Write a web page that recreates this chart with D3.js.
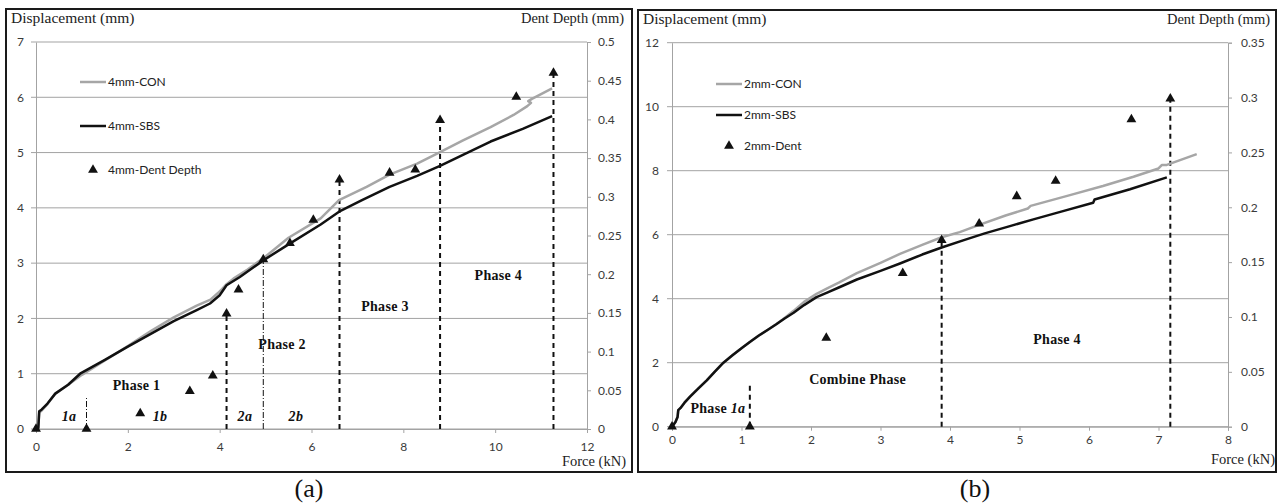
<!DOCTYPE html>
<meta charset="utf-8" />
<script src="https://d3js.org/d3.v7.min.js"></script>
<style>
  body { margin: 0; background: #fff; }
</style>
<svg id="chart" width="1279" height="504"></svg>
<script>
  // ---- panel (a): 4 mm specimens, [force kN, displacement mm]
  var con4 = [[0,0],[0.05,0.02],[0.07,0.3],[0.12,0.33],[0.25,0.45],[0.42,0.64],[0.7,0.8],[1,0.98],[1.5,1.24],[2,1.5],[2.5,1.77],[3,2.02],[3.5,2.23],[3.8,2.34],[3.95,2.45],[4.05,2.53],[4.15,2.62],[4.3,2.72],[4.6,2.88],[5,3.12],[5.5,3.46],[6.2,3.81],[6.6,4.14],[7.2,4.38],[7.7,4.6],[8.3,4.8],[8.8,5.01],[9.3,5.22],[9.9,5.46],[10.4,5.68],[10.7,5.84],[10.78,5.9],[10.72,5.93],[10.8,5.97],[11.24,6.16]];
  var sbs4 = [[0,0],[0.05,0.02],[0.07,0.32],[0.12,0.35],[0.25,0.46],[0.42,0.64],[0.7,0.8],[0.96,1.0],[1.5,1.25],[2,1.49],[2.5,1.72],[3,1.95],[3.5,2.15],[3.79,2.27],[4.0,2.42],[4.15,2.6],[4.44,2.75],[4.95,3.05],[5.5,3.34],[6.2,3.7],[6.6,3.93],[7.1,4.14],[7.7,4.38],[8.3,4.58],[8.8,4.76],[9.4,5.0],[9.9,5.2],[10.6,5.43],[11.24,5.66]];
  var dent4Force = [0, 1.1, 2.27, 3.35, 3.85, 4.15, 4.41, 4.95, 5.53, 6.04, 6.61, 7.7, 8.26, 8.8, 10.46, 11.27];
  var dent4Depth = [0, 0, 0.02, 0.049, 0.069, 0.149, 0.18, 0.219, 0.24, 0.27, 0.322, 0.331, 0.335, 0.399, 0.429, 0.46];
  var guide4Force = [1.1, 4.15, 4.95, 6.61, 8.8, 11.27];
  var guide4Top = [0.04, 0.149, 0.219, 0.322, 0.399, 0.46];
  var guide4Thin = [true, false, true, false, false, false];
  var xTicksA = [0, 2, 4, 6, 8, 10, 12];
  var yTicksA = [0, 1, 2, 3, 4, 5, 6, 7];
  var dentTicksA = [0, 0.05, 0.1, 0.15, 0.2, 0.25, 0.3, 0.35, 0.4, 0.45, 0.5];

  // ---- panel (b): 2 mm specimens
  var con2 = [[0,0],[0.05,0.15],[0.08,0.3],[0.09,0.52],[0.12,0.58],[0.18,0.75],[0.26,0.94],[0.38,1.2],[0.5,1.45],[0.62,1.73],[0.74,2.0],[0.87,2.23],[1.0,2.45],[1.12,2.65],[1.25,2.85],[1.38,3.03],[1.5,3.2],[1.62,3.4],[1.75,3.62],[1.9,3.9],[2.08,4.15],[2.24,4.33],[2.4,4.5],[2.66,4.8],[3.0,5.12],[3.28,5.4],[3.6,5.68],[3.88,5.92],[4.14,6.08],[4.41,6.3],[4.8,6.6],[5.12,6.82],[5.16,6.9],[5.7,7.22],[6.2,7.52],[6.64,7.81],[7.0,8.07],[7.05,8.18],[7.12,8.18],[7.55,8.52]];
  var sbs2 = [[0,0],[0.05,0.15],[0.08,0.3],[0.09,0.52],[0.12,0.58],[0.18,0.75],[0.26,0.94],[0.38,1.2],[0.5,1.45],[0.62,1.73],[0.74,2.0],[0.87,2.23],[1.0,2.45],[1.12,2.65],[1.25,2.85],[1.38,3.03],[1.5,3.2],[1.62,3.38],[1.75,3.56],[1.9,3.8],[2.08,4.05],[2.24,4.2],[2.4,4.35],[2.66,4.6],[3.0,4.87],[3.28,5.1],[3.6,5.38],[3.88,5.6],[4.2,5.83],[4.5,6.04],[4.85,6.26],[5.2,6.48],[5.6,6.72],[6.06,7.0],[6.08,7.1],[6.59,7.42],[7.12,7.79]];
  var dent2Force = [0, 1.12, 2.22, 3.32, 3.88, 4.42, 4.96, 5.52, 6.61, 7.17];
  var dent2Depth = [0, 0, 0.081, 0.14, 0.17, 0.185, 0.21, 0.224, 0.28, 0.299];
  var guide2Force = [1.12, 3.88, 7.17];
  var guide2Top = [0.04, 0.17, 0.299];
  var xTicksB = [0, 1, 2, 3, 4, 5, 6, 7, 8];
  var yTicksB = [0, 2, 4, 6, 8, 10, 12];
  var dentTicksB = [0, 0.05, 0.1, 0.15, 0.2, 0.25, 0.3, 0.35];

  var svg = d3.select("#chart");
  var serif = "'Liberation Serif', 'Times New Roman', serif";
  var sans = "Lato, 'Open Sans', sans-serif";

  function panel(o) {
    var g = svg.append("g");
    var x = d3.scaleLinear().domain(o.xDomain).range([o.left, o.right]);
    var y = d3.scaleLinear().domain(o.yDomain).range([o.bottom, o.top]);
    var y2 = d3.scaleLinear().domain(o.dentDomain).range([o.bottom, o.top]);

    g.append("rect")
      .attr("x", o.box[0]).attr("y", o.box[1])
      .attr("width", o.box[2]).attr("height", o.box[3])
      .attr("fill", "none").attr("stroke", "#1a1a1a").attr("stroke-width", 2);

    // horizontal grid
    g.selectAll(".grid").data(o.yTicks).enter().append("line")
      .attr("x1", o.left - 5).attr("x2", o.right)
      .attr("y1", function(d) { return y(d); })
      .attr("y2", function(d) { return y(d); })
      .attr("stroke", "#a3a3a3").attr("stroke-width", 1);

    var ax = g.append("g").attr("transform", "translate(" + o.left + ",0)")
      .call(d3.axisLeft(y).tickValues(o.yTicks).tickSize(0).tickPadding(o.lPad).tickFormat(d3.format("d")));
    var ax2 = g.append("g").attr("transform", "translate(" + o.right + ",0)")
      .call(d3.axisRight(y2).tickValues(o.dentTicks).tickSize(4).tickPadding(o.rPad)
        .tickFormat(function(d) { return String(+d.toFixed(2)); }));
    var ax3 = g.append("g").attr("transform", "translate(0," + o.bottom + ")")
      .call(d3.axisBottom(x).tickValues(o.xTicks).tickSize(4).tickPadding(o.bPad).tickFormat(d3.format("d")));
    [ax, ax2, ax3].forEach(function(a) {
      a.attr("font-family", sans).attr("font-size", 12);
      a.selectAll("path.domain").attr("stroke", "#a3a3a3");
      a.selectAll(".tick line").attr("stroke", "#a3a3a3");
      a.selectAll("text").attr("fill", "#3a3a3a");
    });

    // guide lines up to the dent points
    var guides = o.guideForce.map(function(f, i) { return [f, o.guideTop[i], o.guideThin[i]]; });
    g.selectAll(".guide").data(guides).enter().append("line")
      .attr("x1", function(d) { return x(d[0]); })
      .attr("x2", function(d) { return x(d[0]); })
      .attr("y1", y2(0))
      .attr("y2", function(d) { return y2(d[1]); })
      .attr("stroke", "#111")
      .attr("stroke-width", function(d) { return d[2] ? 1 : 2; })
      .attr("stroke-dasharray", function(d) { return d[2] ? "6,2,1,2" : "5,4"; });

    var line = d3.line()
      .x(function(d) { return x(d[0]); }).y(function(d) { return y(d[1]); });
    g.append("path").datum(o.con).attr("d", line)
      .attr("fill", "none").attr("stroke", "#a6a6a6").attr("stroke-width", 2.5).attr("stroke-linejoin", "round");
    g.append("path").datum(o.sbs).attr("d", line)
      .attr("fill", "none").attr("stroke", "#111").attr("stroke-width", 2.5).attr("stroke-linejoin", "round");

    var tri = d3.symbol().type(d3.symbolTriangle).size(42);
    var pts = o.dentForce.map(function(f, i) { return [f, o.dentDepth[i]]; });
    g.selectAll(".dent").data(pts).enter().append("path")
      .attr("d", tri)
      .attr("transform", function(d) { return "translate(" + x(d[0]) + "," + y2(d[1]) + ")"; })
      .attr("fill", "#111");

    // titles
    g.append("text").attr("x", o.box[0] + 5).attr("y", o.box[1] + 14)
      .attr("font-family", serif).attr("font-size", 15.5).attr("fill", "#222")
      .text("Displacement (mm)");
    g.append("text").attr("x", o.dentTitleX).attr("y", o.box[1] + 14)
      .attr("text-anchor", "end")
      .attr("font-family", serif).attr("font-size", 14.5).attr("fill", "#222")
      .text("Dent Depth (mm)");
    g.append("text").attr("x", o.forceTitleX).attr("y", o.bottom + 37)
      .attr("text-anchor", "end")
      .attr("font-family", serif).attr("font-size", 14.5).attr("fill", "#222")
      .text("Force (kN)");

    // legend
    var lg = g.append("g").attr("font-family", sans).attr("font-size", 12).attr("fill", "#222");
    lg.append("line").attr("x1", o.legend[0]).attr("x2", o.legend[0] + 26)
      .attr("y1", o.legend[1]).attr("y2", o.legend[1])
      .attr("stroke", "#a6a6a6").attr("stroke-width", 2.5);
    lg.append("text").attr("x", o.legend[0] + 28).attr("y", o.legend[1]).attr("dy", "0.35em").text(o.names[0]);
    lg.append("line").attr("x1", o.legend[0]).attr("x2", o.legend[0] + 26)
      .attr("y1", o.legend[1] + o.legend[2]).attr("y2", o.legend[1] + o.legend[2])
      .attr("stroke", "#111").attr("stroke-width", 2.5);
    lg.append("text").attr("x", o.legend[0] + 28).attr("y", o.legend[1] + o.legend[2]).attr("dy", "0.35em").text(o.names[1]);
    lg.append("path").attr("d", tri)
      .attr("transform", "translate(" + (o.legend[0] + 13) + "," + (o.legend[1] + 2 * o.legend[2]) + ")")
      .attr("fill", "#111");
    lg.append("text").attr("x", o.legend[0] + 28).attr("y", o.legend[1] + 2 * o.legend[2]).attr("dy", "0.35em").text(o.names[2]);

    // phase labels
    o.labels.forEach(function(l) {
      var t = g.append("text").attr("x", x(l[1])).attr("y", y(l[2]))
        .attr("text-anchor", "middle").attr("dominant-baseline", "central")
        .attr("font-family", serif).attr("font-size", 14).attr("font-weight", "bold")
        .attr("letter-spacing", 0.3).attr("fill", "#111");
      if (l[3]) {
        t.append("tspan").text(l[0]);
        t.append("tspan").attr("font-style", "italic").text(l[3]);
      } else if (l[4]) {
        t.attr("font-style", "italic").text(l[0]);
      } else {
        t.text(l[0]);
      }
    });

    svg.append("text").attr("x", o.caption[0]).attr("y", o.caption[1])
      .attr("text-anchor", "middle").attr("font-family", serif).attr("font-size", 26).attr("fill", "#111")
      .text(o.caption[2]);
  }

  panel({
    box: [6, 9, 626, 463],
    left: 36, right: 587, top: 42, bottom: 429,
    xDomain: [0, 12], yDomain: [0, 7], dentDomain: [0, 0.5],
    xTicks: xTicksA, yTicks: yTicksA, dentTicks: dentTicksA,
    lPad: 12, rPad: 7, bPad: 9,
    con: con4, sbs: sbs4,
    dentForce: dent4Force, dentDepth: dent4Depth,
    guideForce: guide4Force, guideTop: guide4Top, guideThin: guide4Thin,
    dentTitleX: 624, forceTitleX: 626,
    legend: [80, 82, 44],
    names: ["4mm-CON", "4mm-SBS", "4mm-Dent Depth"],
    labels: [["Phase 1", 2.19, 0.78], ["Phase 2", 5.36, 1.52], ["Phase 3", 7.6, 2.21], ["Phase 4", 10.07, 2.78],
             ["1a", 0.72, 0.22, null, true], ["1b", 2.7, 0.22, null, true], ["2a", 4.55, 0.22, null, true], ["2b", 5.66, 0.22, null, true]],
    caption: [309, 497, "(a)"]
  });

  panel({
    box: [638, 10, 638, 462],
    left: 672, right: 1228, top: 42.7, bottom: 426.7,
    xDomain: [0, 8], yDomain: [0, 12], dentDomain: [0, 0.35],
    xTicks: xTicksB, yTicks: yTicksB, dentTicks: dentTicksB,
    lPad: 13, rPad: 9, bPad: 5,
    con: con2, sbs: sbs2,
    dentForce: dent2Force, dentDepth: dent2Depth,
    guideForce: guide2Force, guideTop: guide2Top, guideThin: [false, false, false],
    dentTitleX: 1270, forceTitleX: 1275,
    legend: [716, 84, 31],
    names: ["2mm-CON", "2mm-SBS", "2mm-Dent"],
    labels: [["Phase ", 0.66, 0.58, "1a"], ["Combine Phase", 2.67, 1.49], ["Phase 4", 5.54, 2.74]],
    caption: [975, 497, "(b)"]
  });
</script>
